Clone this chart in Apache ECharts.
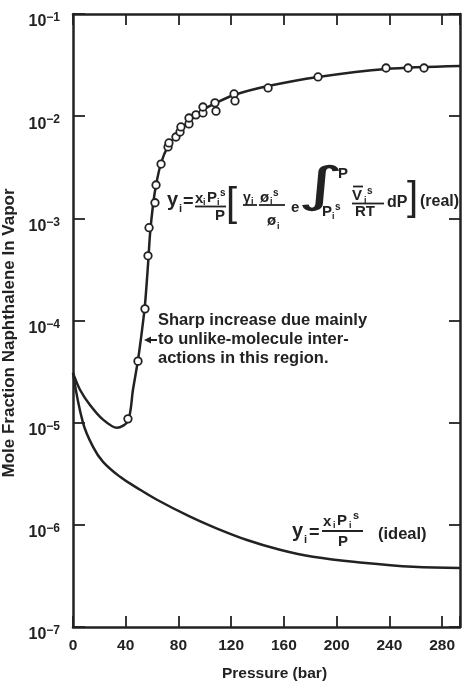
<!DOCTYPE html>
<html><head><meta charset="utf-8">
<script src="https://cdn.jsdelivr.net/npm/echarts@6/dist/echarts.min.js"></script>
<style>html,body{margin:0;padding:0;background:#fff}#c{width:463px;height:690px}</style>
</head><body><div id="c"></div>
<script>
// ---- data ----
const xTicks = [0, 40, 80, 120, 160, 200, 240, 280];
const xMax = 293.6;
const yMin = 1e-7, yMax = 1e-1;

// experimental points (pressure bar, mole fraction)
const expPressure = [41.7, 49.3, 54.6, 56.9, 57.7, 62.2, 63.0, 66.8, 72.1, 72.8, 78.1, 81.2, 81.9, 88.0, 88.0, 93.3, 98.6, 98.6, 107.7, 108.5, 122.2, 122.9, 148.0, 185.9, 237.5, 254.2, 266.3];
const expY = [1.09e-5, 4.0e-5, 1.3e-4, 4.3e-4, 8.1e-4, 1.42e-3, 2.12e-3, 3.4e-3, 5.0e-3, 5.47e-3, 6.25e-3, 7.0e-3, 7.84e-3, 8.4e-3, 9.6e-3, 1.03e-2, 1.075e-2, 1.23e-2, 1.35e-2, 1.12e-2, 1.65e-2, 1.41e-2, 1.89e-2, 2.42e-2, 2.96e-2, 2.96e-2, 2.96e-2];

// real-gas curve
const realPressure = [0, 5.3, 12.9, 22.8, 33.4, 41.7, 45.5, 49.3, 52.4, 54.6, 56.9, 58.4, 60.7, 63.0, 66.8, 72.1, 78.1, 88.0, 98.6, 108.5, 122.2, 148.0, 185.9, 237.5, 293.6];
const realY = [3.07e-5, 2.1e-5, 1.49e-5, 1.07e-5, 8.9e-6, 1.04e-5, 2.1e-5, 4.1e-5, 8.1e-5, 1.42e-4, 3.5e-4, 6.9e-4, 1.35e-3, 2.12e-3, 3.48e-3, 5.1e-3, 6.4e-3, 8.97e-3, 1.15e-2, 1.346e-2, 1.61e-2, 1.97e-2, 2.42e-2, 2.9e-2, 3.1e-2];

// ideal-gas curve
const idealPressure = [0, 7.6, 15.2, 22.8, 35.7, 48.6, 63.7, 88.8, 106.2, 132, 157, 182, 220, 258, 293.6];
const idealY = [3.07e-5, 9.95e-6, 5.8e-6, 4.13e-6, 2.95e-6, 2.3e-6, 1.76e-6, 1.2e-6, 9.55e-7, 7.1e-7, 5.7e-7, 4.86e-7, 4.25e-7, 3.88e-7, 3.79e-7];

// ---- styling ----
const ink = '#222';
const F = "'Liberation Sans', Arial, Helvetica, sans-serif";

function T(x, y, s, size, extra) {
  const st = Object.assign({text: s, fill: ink, font: 'bold ' + size + 'px ' + F,
    textAlign: 'left', textVerticalAlign: 'middle', align: 'left', verticalAlign: 'middle'}, extra || {});
  return {type: 'text', x: x, y: y, z: 100, style: st};
}
function bar(x1, x2, y) {
  return {type: 'line', z: 100, shape: {x1: x1, y1: y, x2: x2, y2: y}, style: {stroke: ink, lineWidth: 1.8}};
}

const graphics = [
  // real equation
  T(167, 200, 'y', 20), T(179, 209, 'i', 11), T(183, 202, '=', 18),
  T(195, 199, 'x', 15), T(203, 203, 'i', 9), T(207, 198, 'P', 15), T(217, 203, 'i', 9), T(220, 193, 's', 10),
  bar(195, 226, 206.5), T(215, 216, 'P', 15),
  T(226, 205, '[', 40, {font: '40px ' + F}),
  T(243, 198, 'γ', 14), T(251, 202, 'i', 9), bar(243, 257, 205),
  T(260, 198, 'ø', 15), T(270, 202, 'i', 9), T(273, 193, 's', 10), bar(259, 285, 205),
  T(267, 221, 'ø', 15), T(277, 227, 'i', 9),
  T(291, 208, 'e', 15),
  {type: 'text', x: 321, y: 189, z: 100, scaleX: 1.9, style: {text: '∫', fill: ink, font: 'oblique 200 48px "DejaVu Sans"', textAlign: 'center', textVerticalAlign: 'middle', align: 'center', verticalAlign: 'middle'}},
  T(338, 174, 'P', 15),
  T(322, 212, 'P', 15), T(332, 217, 'i', 9), T(335, 207, 's', 10),
  T(352, 196, 'V', 15), bar(353, 363, 186.5), T(364, 201, 'i', 9), T(367, 191, 's', 10),
  bar(352, 384, 203.5), T(355, 212, 'RT', 15),
  T(387, 203, 'dP', 16),
  T(407, 199, ']', 40, {font: '40px ' + F}),
  T(420, 202, '(real)', 16),
  // ideal equation
  T(292, 531, 'y', 20), T(304, 540, 'i', 11), T(309, 533, '=', 18),
  T(323, 522, 'x', 15), T(333, 526, 'i', 9), T(337, 521, 'P', 15), T(349, 526, 'i', 9), T(353, 516, 's', 11),
  bar(322, 363, 531), T(338, 542, 'P', 15),
  T(378, 534, '(ideal)', 16.5),
  // note
  {type: 'text', x: 158, y: 311, z: 100, style: {text: 'Sharp increase due mainly\nto unlike-molecule inter-\nactions in this region.', fill: ink, font: 'bold 16.5px ' + F, lineHeight: 19, textAlign: 'left', textVerticalAlign: 'top', align: 'left', verticalAlign: 'top'}},
  {type: 'line', z: 100, shape: {x1: 157, y1: 340, x2: 148, y2: 340}, style: {stroke: ink, lineWidth: 2}},
  {type: 'polygon', z: 100, shape: {points: [[144, 340], [151, 336.5], [151, 343.5]]}, style: {fill: ink}}
];

const axisLineStyle = {color: ink, width: 2.5};
const tickStyle = {color: ink, width: 1.8};

const option = {
  animation: false,
  backgroundColor: '#fff',
  grid: {left: 73, right: 3, top: 14, bottom: 63, containLabel: false, outerBoundsMode: 'none'},
  xAxis: [
    {type: 'value', position: 'bottom', min: 0, max: xMax, interval: 40,
      axisLine: {show: true, onZero: false, lineStyle: axisLineStyle},
      axisTick: {show: true, inside: true, length: 11, lineStyle: tickStyle},
      splitLine: {show: false},
      axisLabel: {color: ink, fontFamily: F, fontWeight: 'bold', fontSize: 15.5, margin: 11,
        formatter: v => xTicks.indexOf(v) >= 0 ? String(v) : ''},
      name: 'Pressure (bar)', nameLocation: 'middle', nameGap: 39,
      nameTextStyle: {color: ink, fontFamily: F, fontWeight: 'bold', fontSize: 15.5, padding: [0, 0, 0, 16]}},
    {type: 'value', position: 'top', min: 0, max: xMax, interval: 40,
      axisLine: {show: true, onZero: false, lineStyle: axisLineStyle},
      axisTick: {show: true, inside: true, length: 11, lineStyle: tickStyle},
      splitLine: {show: false}, axisLabel: {show: false}}
  ],
  yAxis: [
    {type: 'log', logBase: 10, position: 'left', min: yMin, max: yMax, splitNumber: 6,
      axisLine: {show: true, onZero: false, lineStyle: axisLineStyle},
      axisTick: {show: true, inside: true, length: 12, lineStyle: tickStyle},
      splitLine: {show: false}, minorTick: {show: false},
      axisLabel: {margin: 13, padding: [14, 0, 0, 0],
        formatter: v => '{b|10}{s|−' + Math.round(-Math.log10(v)) + '}',
        rich: {
          b: {fontFamily: F, fontWeight: 'bold', fontSize: 16, lineHeight: 18, color: ink, padding: [10, 0, 0, 0], verticalAlign: 'bottom'},
          s: {fontFamily: F, fontWeight: 'bold', fontSize: 12, lineHeight: 14, color: ink, verticalAlign: 'top'}
        }},
      name: 'Mole Fraction Naphthalene In Vapor', nameLocation: 'middle', nameGap: 51,
      nameTextStyle: {color: ink, fontFamily: F, fontWeight: 'bold', fontSize: 17, padding: [0, 25, 0, 0]}},
    {type: 'log', logBase: 10, position: 'right', min: yMin, max: yMax, splitNumber: 6,
      axisLine: {show: true, onZero: false, lineStyle: axisLineStyle},
      axisTick: {show: true, inside: true, length: 11, lineStyle: tickStyle},
      splitLine: {show: false}, axisLabel: {show: false}}
  ],
  series: [
    {name: 'ideal', type: 'line', xAxisIndex: 0, yAxisIndex: 0, smooth: 0.4, symbol: 'none',
      lineStyle: {color: ink, width: 2.5}, data: idealPressure.map((p, i) => [p, idealY[i]])},
    {name: 'real', type: 'line', xAxisIndex: 0, yAxisIndex: 0, smooth: 0.3, symbol: 'none',
      lineStyle: {color: ink, width: 2.5}, data: realPressure.map((p, i) => [p, realY[i]])},
    {name: 'experimental', type: 'scatter', xAxisIndex: 0, yAxisIndex: 0, symbol: 'circle', symbolSize: 7.5, z: 5,
      itemStyle: {color: '#fff', borderColor: ink, borderWidth: 1.8, opacity: 1},
      data: expPressure.map((p, i) => [p, expY[i]])}
  ],
  graphic: graphics
};

const chart = echarts.init(document.getElementById('c'), null, {renderer: 'canvas'});
chart.setOption(option);
</script>
</body></html>
